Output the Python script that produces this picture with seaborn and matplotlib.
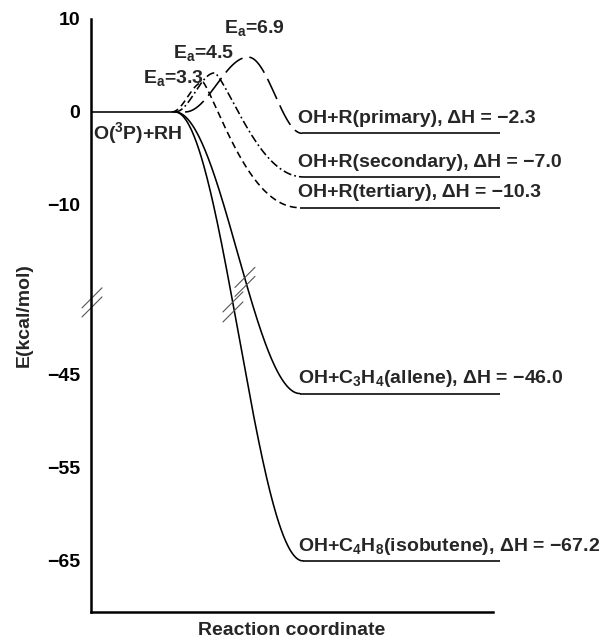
import numpy as np
import pandas as pd
import matplotlib
matplotlib.use("Agg")
import matplotlib.pyplot as plt
import seaborn as sns

# ---------------- data ----------------
products = ["OH+R(primary)", "OH+R(secondary)", "OH+R(tertiary)",
            "OH+C$_3$H$_4$(allene)", "OH+C$_4$H$_8$(isobutene)"]
dH_labels = [-2.3, -7.0, -10.3, -46.0, -67.2]          # printed enthalpies
product_levels = [-2.3, -7.0, -10.3, -47.0, -65.0]     # levels as drawn
barrier_labels = [6.9, 4.5, 3.3]                       # printed Ea
barrier_peaks = [5.9, 4.2, 3.2]                        # barrier tops as drawn
reactant_level = 0.0
reactant_label = "O($^3$P)+RH"
ytick_values = [10, 0, -10, -45, -55, -65]

# ---------------- geometry / style ----------------
BREAK_AT, BREAK_OFFSET = -20.0, 16.7


def disp(v):
    v = np.asarray(v, float)
    return np.where(v < BREAK_AT, v + BREAK_OFFSET, v)


x_react_end = 20.9
x_start = [23.4, 20.9, 20.1, 20.9, 20.9]
x_peak = [39.1, 30.8, 27.9, None, None]
x_end = [52.5, 53.0, 52.0, 52.0, 52.7]
descent_warp = [1.0, 0.65, 0.6, 1.0, 1.0]
x_line_end = 101.7
dash_specs = {products[0]: (16, 5), products[1]: (6, 2.2, 1.3, 2.2),
              products[2]: (5, 3), products[3]: "", products[4]: ""}

sns.set_theme(style="white")
plt.rcParams.update({
    "font.family": ["Liberation Sans", "DejaVu Sans"],
    "font.weight": "bold",
    "axes.labelweight": "bold",
    "mathtext.fontset": "custom",
    "mathtext.rm": "Liberation Sans:bold",
    "mathtext.it": "Liberation Sans:bold",
    "mathtext.bf": "Liberation Sans:bold",
    "mathtext.sf": "Liberation Sans:bold",
    "lines.scale_dashes": False,
})
FS = 14


def cos_seg(x0, x1, y0, y1, warp=1.0, n=80):
    x = np.linspace(x0, x1, n)
    t = np.linspace(0, 1, n) ** warp
    return x, y0 + (y1 - y0) * (1 - np.cos(np.pi * t)) / 2


rows = []
for i, name in enumerate(products):
    y_end = float(disp(product_levels[i]))
    if x_peak[i] is not None:
        yp = barrier_peaks[i]
        xa, ya = cos_seg(x_start[i], x_peak[i], reactant_level, yp)
        xb, yb = cos_seg(x_peak[i], x_end[i], yp, y_end, descent_warp[i])
        xs, ys = np.r_[xa, xb[1:]], np.r_[ya, yb[1:]]
    else:
        xs, ys = cos_seg(x_start[i], x_end[i], reactant_level, y_end,
                         descent_warp[i], n=160)
    rows.append(pd.DataFrame({"x": xs, "y": ys, "pathway": name}))
df = pd.concat(rows, ignore_index=True)

fig = plt.figure(figsize=(6.03, 6.39), dpi=100)
ax = fig.add_axes([91 / 603, 1 - 612 / 639, 402 / 603, 593 / 639])

sns.lineplot(data=df, x="x", y="y", hue="pathway", style="pathway",
             palette={p: "black" for p in products}, dashes=dash_specs,
             estimator=None, sort=False, legend=False, lw=1.15, ax=ax)

# reactant and product levels
ax.plot([0, x_react_end], [reactant_level, reactant_level], color="black",
        lw=1.15, solid_capstyle="butt")
for i, name in enumerate(products):
    yl = float(disp(product_levels[i]))
    ax.plot([x_end[i], x_line_end], [yl, yl], color="black", lw=1.15,
            clip_on=False, solid_capstyle="butt")
    ax.text(51.5, yl + 1.1,
            f"{name}, ΔH = {dH_labels[i]:.1f}".replace("-", "−"),
            fontsize=FS, ha="left", va="baseline", clip_on=False)

# barrier labels
ea_pos = [(33.1, 8.5), (20.4, 5.8), (12.9, 3.1)]
for (xt, yt), ea in zip(ea_pos, barrier_labels):
    ax.text(xt, yt, f"E$_a$={ea:.1f}", fontsize=FS, ha="left", va="baseline")

ax.text(0.5, -2.9, reactant_label, fontsize=FS, ha="left", va="baseline")

# axis break marks
brk = dict(color="#555555", lw=0.8, clip_on=False)
for xc, yc in [(0.25, -20.0), (0.25, -20.98),
               (38.3, -17.8), (38.3, -18.77),
               (35.3, -20.44), (35.3, -21.52)]:
    ax.plot([xc - 2.49, xc + 2.49], [yc - 1.08, yc + 1.08], **brk)

# axes styling
ax.set_xlim(0, 100)
ax.set_ylim(-53.8, 10)
ax.set_yticks(disp(ytick_values))
ax.set_yticklabels([f"{v:g}".replace("-", "−") for v in ytick_values])
ax.set_xticks([])
ax.tick_params(axis="y", direction="in", length=10, width=1.1, pad=8,
               labelsize=FS, colors="black")
for s in ["top", "right"]:
    ax.spines[s].set_visible(False)
for s in ["left", "bottom"]:
    ax.spines[s].set_linewidth(1.8)
    ax.spines[s].set_color("black")

ax.set_xlabel("Reaction coordinate", fontsize=FS)
ax.set_ylabel("E(kcal/mol)", fontsize=FS)
ax.xaxis.label.set_va("baseline")
ax.xaxis.set_label_coords(0.5, -0.0388)
ax.yaxis.label.set_va("baseline")
ax.yaxis.set_label_coords(-0.156, 0.5)

fig.savefig("out.png", dpi=100)
